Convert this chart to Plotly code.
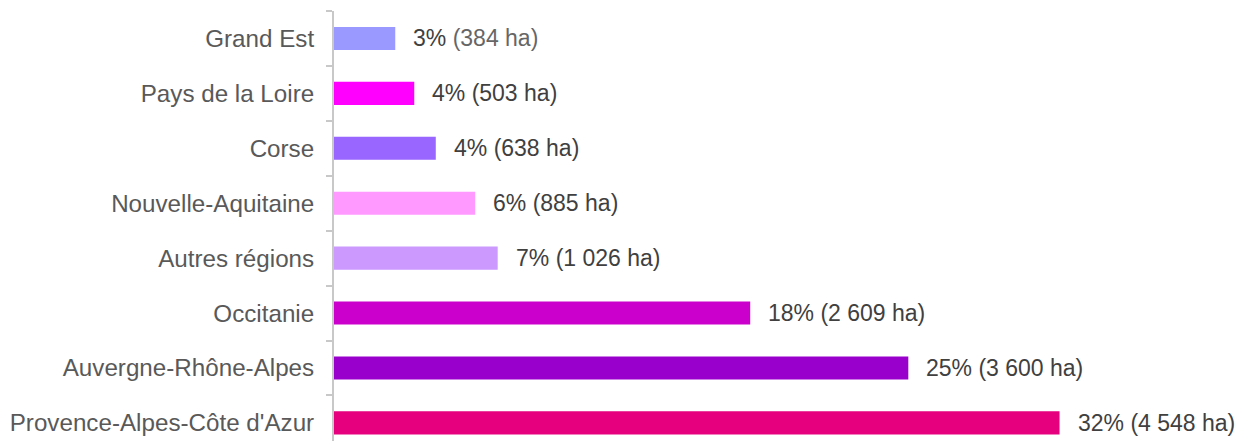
import plotly.graph_objects as go

regions = ["Grand Est", "Pays de la Loire", "Corse", "Nouvelle-Aquitaine",
           "Autres régions", "Occitanie", "Auvergne-Rhône-Alpes",
           "Provence-Alpes-Côte d'Azur"]
hectares = [384, 503, 638, 885, 1026, 2609, 3600, 4548]
percents = [3, 4, 4, 6, 7, 18, 25, 32]
colors = ["#9999FF", "#FF00FF", "#9966FF", "#FF99FF", "#CC99FF",
          "#CC00CC", "#9900CC", "#E6007E"]


def fmt_ha(v):
    return f"{v:,}".replace(",", " ")


labels = []
for i, (p, h) in enumerate(zip(percents, hectares)):
    if i == 0:
        labels.append(f"{p}% <span style='color:#666666'>({fmt_ha(h)} ha)</span>")
    else:
        labels.append(f"{p}% ({fmt_ha(h)} ha)")

fig = go.Figure()
fig.add_trace(go.Bar(
    x=hectares, y=regions, orientation="h",
    marker=dict(color=colors, line=dict(width=0)),
    width=0.42,
    hoverinfo="skip",
))

for reg, h, lab in zip(regions, hectares, labels):
    fig.add_annotation(
        x=h, y=reg, text=lab, showarrow=False,
        xanchor="left", yanchor="middle", xshift=16,
        font=dict(family="Liberation Sans, Arial, sans-serif", size=23, color="#404040"),
    )

fig.update_layout(
    width=1235, height=433,
    margin=dict(l=326, r=0, t=3, b=0, pad=0, autoexpand=False),
    paper_bgcolor="white", plot_bgcolor="white",
    showlegend=False,
    font=dict(family="Liberation Sans, Arial, sans-serif", size=24.2, color="#595959"),
    xaxis=dict(range=[0, 5698], visible=False, showgrid=False, zeroline=False,
               automargin=False),
    yaxis=dict(
        type="category", categoryorder="array", categoryarray=regions,
        range=[7.33, -0.5],
        showline=True, linecolor="#C8C8C8", linewidth=2,
        ticks="outside", tickson="boundaries", ticklen=6,
        tickcolor="#C8C8C8", tickwidth=1.5,
        showgrid=False, zeroline=False, automargin=False,
        ticklabelstandoff=13,
        tickfont=dict(size=24.2, color="#595959"),
    ),
)

fig.write_html("out.html")
